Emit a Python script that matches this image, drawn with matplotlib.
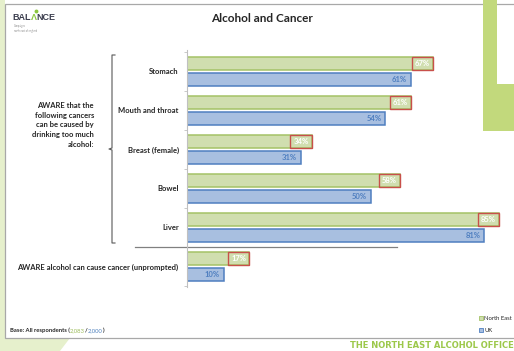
import matplotlib.pyplot as plt
from matplotlib.patches import Rectangle, Polygon
from matplotlib.lines import Line2D

# Data
categories = ["Stomach", "Mouth and throat", "Breast (female)", "Bowel", "Liver",
              "AWARE alcohol can cause cancer (unprompted)"]
north_east = [67, 61, 34, 58, 85, 17]
uk = [61, 54, 31, 50, 81, 10]
series_names = ["North East", "UK"]
bases = ["2,083", "2,000"]

W, H = 514, 351
ne_fill, ne_edge = "#d0deaf", "#a4c266"
uk_fill, uk_edge = "#a8bfe0", "#4f7fc0"
red = "#c8504a"
slide_green = "#c2d97c"

plt.rcParams['font.family'] = ['Lato', 'DejaVu Sans']


def fx(px):
    return px / W


def fy(py):
    return 1 - py / H


fig = plt.figure(figsize=(W / 100, H / 100), dpi=100)
fig.patch.set_facecolor("white")

# background pieces of the slide screenshot
fig.add_artist(Polygon([(0, 1), (fx(5), 1), (fx(5), fy(338)), (fx(70), fy(338)),
                        (fx(60), 0), (0, 0)], closed=True, transform=fig.transFigure,
                       facecolor="#e6f0cc", edgecolor="none", zorder=-3))
fig.add_artist(Rectangle((fx(5), fy(338)), fx(520) - fx(5), fy(4) - fy(338),
                         transform=fig.transFigure, facecolor="white",
                         edgecolor="#a8a8a8", lw=0.9, zorder=-2))
fig.add_artist(Polygon([(fx(483), 1), (fx(497), 1), (fx(497), fy(84)), (1, fy(84)),
                        (1, fy(131)), (fx(483), fy(131))], closed=True,
                       transform=fig.transFigure, facecolor=slide_green,
                       edgecolor="none", zorder=-1))

# bars
ax = fig.add_axes([fx(187), fy(287), 1 - fx(187), fy(50) - fy(287)])
ax.set_facecolor("none")
ax.set_xlim(0, (W - 187) / 3.67)
ax.set_ylim(5.53, -0.55)

pos = list(range(len(categories)))
bh = 0.35
off = 0.205
ax.barh([p - off for p in pos], north_east, height=bh, color=ne_fill,
        edgecolor=ne_edge, lw=1.1)
ax.barh([p + off for p in pos], uk, height=bh, color=uk_fill,
        edgecolor=uk_edge, lw=1.1)

for p, v in zip(pos, north_east):
    ax.add_patch(Rectangle((v - 5.8, p - off - bh / 2), 5.8, bh, facecolor="none",
                           edgecolor=red, lw=1.0, zorder=3))
    ax.text(v - 2.9, p - off, f"{v}%", color="white", fontsize=5.5,
            fontweight="bold", ha="center", va="center", zorder=4)
for p, v in zip(pos, uk):
    ax.text(v - 1.0, p + off, f"{v}%", color=uk_edge, fontsize=5.5,
            fontweight="bold", ha="right", va="center")

for s in ["top", "right", "bottom"]:
    ax.spines[s].set_visible(False)
ax.spines["left"].set_color("#c0c0c0")
ax.spines["left"].set_linewidth(0.8)
ax.set_xticks([])
ax.set_yticks(pos)
ax.set_yticklabels(categories, fontsize=5.5, fontweight="bold", color="#262626")
ax.tick_params(axis="y", which="major", length=0, pad=6)
ax.set_yticks([p + 0.5 for p in range(-1, 6)], minor=True)
ax.tick_params(axis="y", which="minor", length=2.5, color="#c0c0c0", width=0.6)

# separator between prompted and unprompted
ax.plot([(135 - 187) / 3.67, (397 - 187) / 3.67], [4.5, 4.5], color="#808080",
        lw=0.9, clip_on=False)

# bracket and group label
bx = [115, 112, 112, 109, 112, 112, 115]
by = [55, 55, 148, 149, 150, 243, 243]
fig.add_artist(Line2D([fx(x) for x in bx], [fy(y) for y in by],
                      transform=fig.transFigure, color="#595959", lw=0.8))
fig.text(fx(94), fy(125), "AWARE that the\nfollowing cancers\ncan be caused by\n"
         "drinking too much\nalcohol:", ha="right", va="center", fontsize=5.5,
         fontweight="bold", color="#262626", linespacing=1.45)

# title and logo
fig.text(fx(262), fy(18), "Alcohol and Cancer", ha="center", va="center",
         fontsize=8.5, fontweight="bold", color="#262626")
t1 = fig.text(fx(12), fy(17), "BAL", ha="left", va="center", fontsize=6.5,
              fontweight="bold", color="#3c3f4f", family="Liberation Sans")
t2 = ax.annotate("Λ", xy=(1, 0), xycoords=t1, va="bottom", ha="left", fontsize=6.5,
                 fontweight="bold", color="#8cc63f", family="Liberation Sans",
                 annotation_clip=False)
ax.annotate("NCE", xy=(1, 0), xycoords=t2, va="bottom", ha="left", fontsize=6.5,
            fontweight="bold", color="#3c3f4f", family="Liberation Sans",
            annotation_clip=False)
fig.add_artist(Line2D([fx(35.5)], [fy(11)], transform=fig.transFigure, marker="o",
                      markersize=1.8, color="#8cc63f", lw=0))
fig.text(fx(14), fy(28.5), "Campaigns\nnorth east of england", ha="left", va="center",
         fontsize=1.8, color="#909090", linespacing=1.1)

# legend
for name, fc, ec, py in [(series_names[0], ne_fill, ne_edge, 318),
                         (series_names[1], uk_fill, uk_edge, 330)]:
    fig.add_artist(Rectangle((fx(479), fy(py + 2)), fx(4), fy(0) - fy(4),
                             transform=fig.transFigure, facecolor=fc,
                             edgecolor=ec, lw=0.6))
    fig.text(fx(484.5), fy(py), name, ha="left", va="center", fontsize=4.2,
             color="#262626")

# base note
b0 = fig.text(fx(10), fy(330), "Base: All respondents (", ha="left", va="center",
              fontsize=4.2, fontweight="bold", color="#262626")
b1 = ax.annotate(bases[0], xy=(1, 0), xycoords=b0, va="bottom", fontsize=4.2,
                 color="#9bbb59", annotation_clip=False)
b2 = ax.annotate("/", xy=(1, 0), xycoords=b1, va="bottom", fontsize=4.2,
                 fontweight="bold", color="#262626", annotation_clip=False)
b3 = ax.annotate(bases[1], xy=(1, 0), xycoords=b2, va="bottom", fontsize=4.2,
                 color="#4f81bd", annotation_clip=False)
ax.annotate(")", xy=(1, 0), xycoords=b3, va="bottom", fontsize=4.2,
            fontweight="bold", color="#262626", annotation_clip=False)

fig.text(1.0, fy(346), "THE NORTH EAST ALCOHOL OFFICE", ha="right", va="center",
         fontsize=6, fontweight="bold", color="#9cc84a", family="DejaVu Sans")

fig.savefig("out.png", dpi=100)
